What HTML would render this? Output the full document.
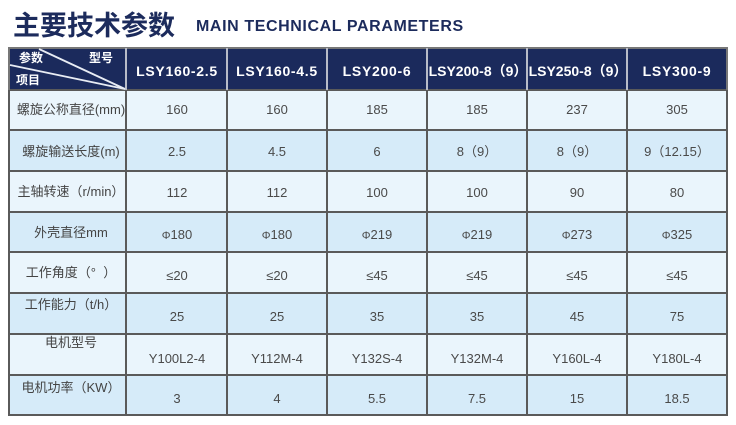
<!DOCTYPE html>
<html><head><meta charset="utf-8">
<style>
html,body{margin:0;padding:0;background:#fff;}
body{width:736px;height:425px;position:relative;overflow:hidden;font-family:"Liberation Sans","Noto Sans CJK SC",sans-serif;}
.a{position:absolute;}
.t{position:absolute;text-align:center;white-space:nowrap;}
.hl{position:absolute;left:8px;width:720px;height:2px;background:#5a5a5a;}
.vl{position:absolute;top:90px;height:326px;width:2px;background:#5a5a5a;}
.hv{position:absolute;top:48px;height:42px;width:2px;background:#b8bcc8;}
.d{font-size:13px;line-height:13px;color:#4a4a4a;width:100px;}
.l{font-size:13px;line-height:13px;color:#444;left:11px;width:120px;}
.h{font-size:14px;line-height:14px;color:#fff;font-weight:bold;width:100px;letter-spacing:0.7px;top:64px;}
</style></head><body>
<div class="t" style="left:13px;top:10px;font-size:27px;line-height:27px;font-weight:bold;color:#1c2b5c;text-align:left;font-family:'Noto Sans CJK SC',sans-serif;">主要技术参数</div>
<div class="t" style="left:196px;top:19px;font-size:16px;line-height:16px;font-weight:bold;color:#1c2b5c;letter-spacing:0.6px;text-align:left;">MAIN TECHNICAL PARAMETERS</div>

<!-- header bg -->
<div class="a" style="left:9px;top:48px;width:719px;height:42px;background:#1b2a5c;"></div>
<!-- row bgs -->
<div class="a" style="left:9px;top:90px;width:719px;height:40px;background:#eaf5fc;"></div>
<div class="a" style="left:9px;top:130px;width:719px;height:41px;background:#d6ebf9;"></div>
<div class="a" style="left:9px;top:171px;width:719px;height:41px;background:#eaf5fc;"></div>
<div class="a" style="left:9px;top:212px;width:719px;height:40px;background:#d6ebf9;"></div>
<div class="a" style="left:9px;top:252px;width:719px;height:41px;background:#eaf5fc;"></div>
<div class="a" style="left:9px;top:293px;width:719px;height:41px;background:#d6ebf9;"></div>
<div class="a" style="left:9px;top:334px;width:719px;height:41px;background:#eaf5fc;"></div>
<div class="a" style="left:9px;top:375px;width:719px;height:40px;background:#d6ebf9;"></div>

<!-- lines -->
<div class="hl" style="top:47px;background:#777;"></div>
<div class="hl" style="top:89px;"></div>
<div class="hl" style="top:129px;"></div>
<div class="hl" style="top:170px;"></div>
<div class="hl" style="top:211px;"></div>
<div class="hl" style="top:251px;"></div>
<div class="hl" style="top:292px;"></div>
<div class="hl" style="top:333px;"></div>
<div class="hl" style="top:374px;"></div>
<div class="hl" style="top:414px;"></div>
<div class="vl" style="left:8px;"></div>
<div class="vl" style="left:125px;"></div>
<div class="vl" style="left:226px;"></div>
<div class="vl" style="left:326px;"></div>
<div class="vl" style="left:426px;"></div>
<div class="vl" style="left:526px;"></div>
<div class="vl" style="left:626px;"></div>
<div class="vl" style="left:726px;"></div>
<div class="hv" style="left:8px;background:#777;"></div>
<div class="hv" style="left:125px;"></div>
<div class="hv" style="left:226px;"></div>
<div class="hv" style="left:326px;"></div>
<div class="hv" style="left:426px;"></div>
<div class="hv" style="left:526px;"></div>
<div class="hv" style="left:626px;"></div>
<div class="hv" style="left:726px;background:#777;"></div>

<svg class="a" style="left:0;top:0" width="736" height="425">
<line x1="39" y1="49" x2="125" y2="89" stroke="#e8ecf4" stroke-width="1.8"/>
<line x1="10" y1="65" x2="125" y2="89" stroke="#e8ecf4" stroke-width="1.8"/>
</svg>

<!-- header labels -->
<div class="t" style="left:19px;top:52px;font-size:12px;line-height:12px;color:#fff;font-weight:bold;">参数</div>
<div class="t" style="left:89px;top:52px;font-size:12px;line-height:12px;color:#fff;font-weight:bold;">型号</div>
<div class="t" style="left:16px;top:74px;font-size:12px;line-height:12px;color:#fff;font-weight:bold;">项目</div>
<div class="t h" style="left:127px;">LSY160-2.5</div>
<div class="t h" style="left:227px;">LSY160-4.5</div>
<div class="t h" style="left:327px;">LSY200-6</div>
<div class="t h" style="left:427px;letter-spacing:0;width:102px;">LSY200-8（9）</div>
<div class="t h" style="left:527px;letter-spacing:0;width:102px;">LSY250-8（9）</div>
<div class="t h" style="left:627px;">LSY300-9</div>

<!-- row labels -->
<div class="t l" style="top:103px;">螺旋公称直径(mm)</div>
<div class="t l" style="top:145px;">螺旋输送长度(m)</div>
<div class="t l" style="top:185px;">主轴转速（r/min）</div>
<div class="t l" style="top:226px;">外壳直径mm</div>
<div class="t l" style="top:266px;">工作角度（°&nbsp;&nbsp;）</div>
<div class="t l" style="top:298px;">工作能力（t/h）</div>
<div class="t l" style="top:336px;">电机型号</div>
<div class="t l" style="top:381px;">电机功率（KW）</div>

<!-- row 1 -->
<div class="t d" style="left:127px;top:103px;">160</div>
<div class="t d" style="left:227px;top:103px;">160</div>
<div class="t d" style="left:327px;top:103px;">185</div>
<div class="t d" style="left:427px;top:103px;">185</div>
<div class="t d" style="left:527px;top:103px;">237</div>
<div class="t d" style="left:627px;top:103px;">305</div>
<!-- row 2 -->
<div class="t d" style="left:127px;top:145px;">2.5</div>
<div class="t d" style="left:227px;top:145px;">4.5</div>
<div class="t d" style="left:327px;top:145px;">6</div>
<div class="t d" style="left:427px;top:145px;">8（9）</div>
<div class="t d" style="left:527px;top:145px;">8（9）</div>
<div class="t d" style="left:627px;top:145px;">9（12.15）</div>
<!-- row 3 -->
<div class="t d" style="left:127px;top:186px;">112</div>
<div class="t d" style="left:227px;top:186px;">112</div>
<div class="t d" style="left:327px;top:186px;">100</div>
<div class="t d" style="left:427px;top:186px;">100</div>
<div class="t d" style="left:527px;top:186px;">90</div>
<div class="t d" style="left:627px;top:186px;">80</div>
<!-- row 4 -->
<div class="t d" style="left:127px;top:228px;"><span style="font-size:11px">Φ</span>180</div>
<div class="t d" style="left:227px;top:228px;"><span style="font-size:11px">Φ</span>180</div>
<div class="t d" style="left:327px;top:228px;"><span style="font-size:11px">Φ</span>219</div>
<div class="t d" style="left:427px;top:228px;"><span style="font-size:11px">Φ</span>219</div>
<div class="t d" style="left:527px;top:228px;"><span style="font-size:11px">Φ</span>273</div>
<div class="t d" style="left:627px;top:228px;"><span style="font-size:11px">Φ</span>325</div>
<!-- row 5 -->
<div class="t d" style="left:127px;top:269px;">≤20</div>
<div class="t d" style="left:227px;top:269px;">≤20</div>
<div class="t d" style="left:327px;top:269px;">≤45</div>
<div class="t d" style="left:427px;top:269px;">≤45</div>
<div class="t d" style="left:527px;top:269px;">≤45</div>
<div class="t d" style="left:627px;top:269px;">≤45</div>
<!-- row 6 -->
<div class="t d" style="left:127px;top:310px;">25</div>
<div class="t d" style="left:227px;top:310px;">25</div>
<div class="t d" style="left:327px;top:310px;">35</div>
<div class="t d" style="left:427px;top:310px;">35</div>
<div class="t d" style="left:527px;top:310px;">45</div>
<div class="t d" style="left:627px;top:310px;">75</div>
<!-- row 7 -->
<div class="t d" style="left:127px;top:352px;">Y100L2-4</div>
<div class="t d" style="left:227px;top:352px;">Y112M-4</div>
<div class="t d" style="left:327px;top:352px;">Y132S-4</div>
<div class="t d" style="left:427px;top:352px;">Y132M-4</div>
<div class="t d" style="left:527px;top:352px;">Y160L-4</div>
<div class="t d" style="left:627px;top:352px;">Y180L-4</div>
<!-- row 8 -->
<div class="t d" style="left:127px;top:392px;">3</div>
<div class="t d" style="left:227px;top:392px;">4</div>
<div class="t d" style="left:327px;top:392px;">5.5</div>
<div class="t d" style="left:427px;top:392px;">7.5</div>
<div class="t d" style="left:527px;top:392px;">15</div>
<div class="t d" style="left:627px;top:392px;">18.5</div>
</body></html>
